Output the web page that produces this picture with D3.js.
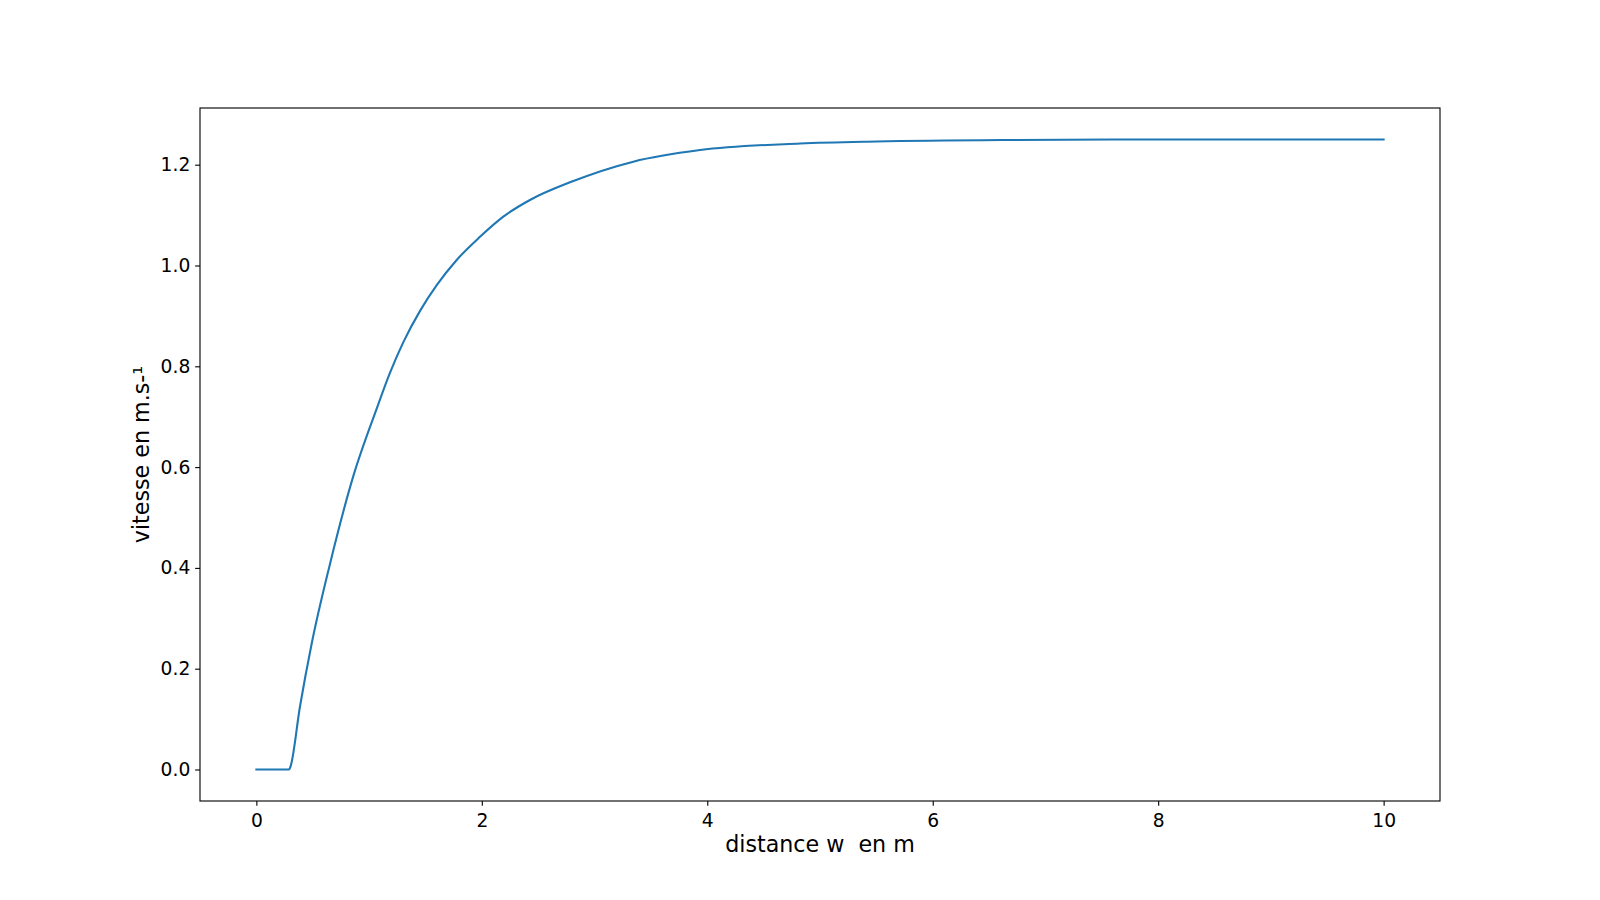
<!DOCTYPE html>
<html>
<head>
<meta charset="utf-8">
<script src="https://cdn.jsdelivr.net/npm/d3@7"></script>
<style>
  html, body { margin: 0; padding: 0; background: #fff; }
  svg { display: block; }
  text { font-family: "DejaVu Sans", sans-serif; fill: #000; }
</style>
</head>
<body>
<svg id="chart" width="1600" height="900"></svg>
<script>
// Data
const distance = [0, 0.1, 0.2, 0.29, 0.30, 0.387, 0.491, 0.65, 0.86, 1.061, 1.185, 1.304, 1.452, 1.60, 1.777, 1.984, 2.191, 2.427, 2.782, 3.344, 3.936, 4.823, 5.5, 6.7, 8, 9, 10];
const vitesse  = [0, 0, 0, 0, 0.004, 0.125, 0.25, 0.405, 0.582, 0.712, 0.787, 0.848, 0.91, 0.961, 1.011, 1.057, 1.097, 1.130, 1.165, 1.206, 1.229, 1.242, 1.246, 1.249, 1.25, 1.25, 1.25];
const xTicks = [0, 2, 4, 6, 8, 10];
const yTicks = [0.0, 0.2, 0.4, 0.6, 0.8, 1.0, 1.2];
const xLabel = "distance w  en m";
const yLabel = "vitesse en m.s-\u00B9";

const svg = d3.select("#chart");
const mLeft = 200, mRight = 1440, mTop = 108, mBottom = 801;

const x = d3.scaleLinear().domain([-0.5, 10.5]).range([mLeft, mRight]);
const y = d3.scaleLinear().domain([-0.0625, 1.3125]).range([mBottom, mTop]);

const pts = distance.map((d, i) => [d, vitesse[i]]);

// line
svg.append("path")
  .datum(pts)
  .attr("fill", "none")
  .attr("stroke", "#1f77b4")
  .attr("stroke-width", 2.08)
  .attr("stroke-linejoin", "round")
  .attr("stroke-linecap", "square")
  .attr("d", d3.line().x(d => x(d[0])).y(d => y(d[1])).curve(d3.curveMonotoneX));

// axes
const xAxis = d3.axisBottom(x).tickValues(xTicks).tickFormat(d3.format("d")).tickSizeInner(4.86).tickSizeOuter(0).tickPadding(7.5);
const yAxis = d3.axisLeft(y).tickValues(yTicks).tickFormat(d3.format(".1f")).tickSizeInner(4.86).tickSizeOuter(0).tickPadding(4.86);

const gx = svg.append("g").attr("transform", `translate(0,${mBottom})`).call(xAxis);
const gy = svg.append("g").attr("transform", `translate(${mLeft},0)`).call(yAxis);
[gx, gy].forEach(g => {
  g.select(".domain").remove();
  g.selectAll(".tick line").attr("stroke", "#000").attr("stroke-width", 1.11);
  g.selectAll(".tick text").style("font-family", "DejaVu Sans").style("font-size", "18.7px").attr("fill", "#000");
});

// frame
svg.append("rect")
  .attr("x", mLeft).attr("y", mTop)
  .attr("width", mRight - mLeft).attr("height", mBottom - mTop)
  .attr("fill", "none").attr("stroke", "#000").attr("stroke-width", 1.11);

// labels
svg.append("text")
  .attr("x", (mLeft + mRight) / 2).attr("y", 852)
  .attr("text-anchor", "middle")
  .style("font-size", "22.2px")
  .style("white-space", "pre")
  .attr("xml:space", "preserve")
  .text(xLabel);

svg.append("text")
  .attr("transform", `translate(149,${(mTop + mBottom) / 2}) rotate(-90)`)
  .attr("text-anchor", "middle")
  .style("font-size", "22.2px")
  .text(yLabel);
</script>
</body>
</html>
